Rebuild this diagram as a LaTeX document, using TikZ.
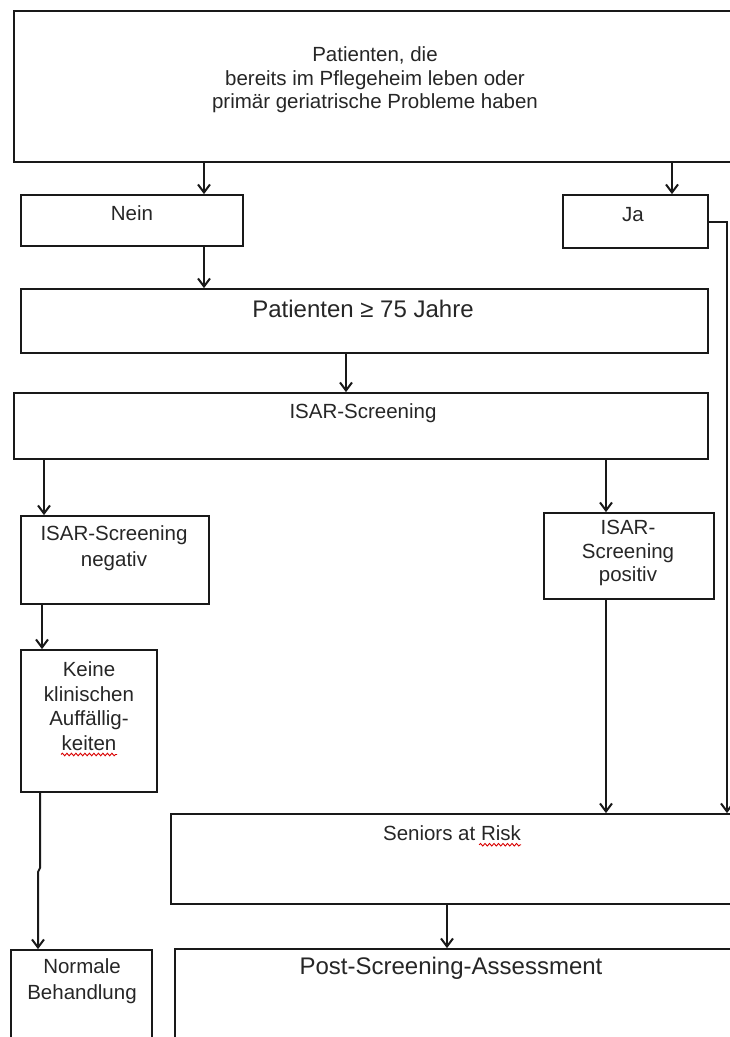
\documentclass[tikz,border=0pt]{standalone}
\usepackage{fontspec}
\setmainfont{Liberation Sans}
\usetikzlibrary{arrows.meta,fit,calc,decorations.pathmorphing}
\tikzset{
  box/.style={draw=black!90, line width=1.8pt, inner sep=0pt},
  txt/.style={inner sep=0pt, text=black!85, font=\fontsize{20.5}{23.5}\selectfont, align=center},
  bigtxt/.style={txt, font=\fontsize{24}{28}\selectfont},
  arr/.style={draw=black!90, line width=2pt, -{Straight Barb[length=8pt,width=12pt,line width=2pt]}},
  spell/.style={draw=red!85!black, line width=0.9pt, decorate, decoration={snake, segment length=4.5pt, amplitude=1.3pt}}
}
\begin{document}
\begin{tikzpicture}[x=1pt,y=-1pt]
\useasboundingbox (0,0) rectangle (729,1037);
% boxes
\node[box, fit={(14,11) (745,162)}] (top) {};
\node[box, fit={(21,195) (243,246)}] (nein) {};
\node[box, fit={(563,195) (708,248)}] (ja) {};
\node[box, fit={(21,289) (708,353)}] (p75) {};
\node[box, fit={(14,393) (708,459)}] (isar) {};
\node[box, fit={(21,516) (209,604)}] (neg) {};
\node[box, fit={(544,513) (714,599)}] (pos) {};
\node[box, fit={(21,650) (157,792)}] (keine) {};
\node[box, fit={(11,950) (152,1050)}] (normale) {};
\node[box, fit={(171,814) (745,904)}] (seniors) {};
\node[box, fit={(175,949) (745,1050)}] (post) {};
% texts
\node[txt] (toptxt) at (375,80) {Patienten, die\\bereits im Pflegeheim leben oder\\primär geriatrische Probleme haben};
\node[txt] (neintxt) at (132,213) {Nein};
\node[txt] (jatxt) at (633,215) {Ja};
\node[bigtxt] (p75txt) at (363,309) {Patienten ≥ 75 Jahre};
\node[txt] (isartxt) at (363,413) {ISAR-Screening};
\node[txt, font=\fontsize{20.5}{26}\selectfont] (negtxt) at (114,548) {ISAR-Screening\\negativ};
\node[txt] (postxt) at (628,553) {ISAR-\\Screening\\positiv};
\node[txt, font=\fontsize{20.5}{24.5}\selectfont] (keinetxt) at (89,706) {Keine\\klinischen\\Auffällig-\\keiten};
\node[txt, font=\fontsize{20.5}{26}\selectfont] (normtxt) at (82,981) {Normale\\Behandlung};
\node[txt] (sentxt) at (452,833) {Seniors at Risk};
\node[bigtxt] (posttxt) at (451,968) {Post-Screening-Assessment};
% spelling marks
\draw[spell] ($(keinetxt.south)+(-28,4)$) -- ($(keinetxt.south)+(28,4)$);
\draw[spell] ($(sentxt.south east)+(-42,4)$) -- ($(sentxt.south east)+(0,4)$);
% connector columns
\coordinate (c1) at (204,0);
\coordinate (c2) at (672,0);
\coordinate (c3) at (346,0);
\coordinate (c4) at (44,0);
\coordinate (c5) at (606,0);
\coordinate (c6) at (42,0);
\coordinate (c7) at (447,0);
\coordinate (rx) at (727,0);
\coordinate (j1) at (40,868);
\coordinate (j2) at (38,872);
% connectors
\draw[arr] (top.south -| c1) -- (nein.north -| c1);
\draw[arr] (top.south -| c2) -- (ja.north -| c2);
\draw[arr] (nein.south -| c1) -- (p75.north -| c1);
\draw[arr] (ja.east) -- (ja.east -| rx) -- (seniors.north -| rx);
\draw[arr] (p75.south -| c3) -- (isar.north -| c3);
\draw[arr] (isar.south -| c4) -- (neg.north -| c4);
\draw[arr] (isar.south -| c5) -- (pos.north -| c5);
\draw[arr] (neg.south -| c6) -- (keine.north -| c6);
\draw[arr] (keine.south -| j1) -- (j1) -- (j2) -- (normale.north -| j2);
\draw[arr] (pos.south -| c5) -- (seniors.north -| c5);
\draw[arr] (seniors.south -| c7) -- (post.north -| c7);
\end{tikzpicture}
\end{document}
